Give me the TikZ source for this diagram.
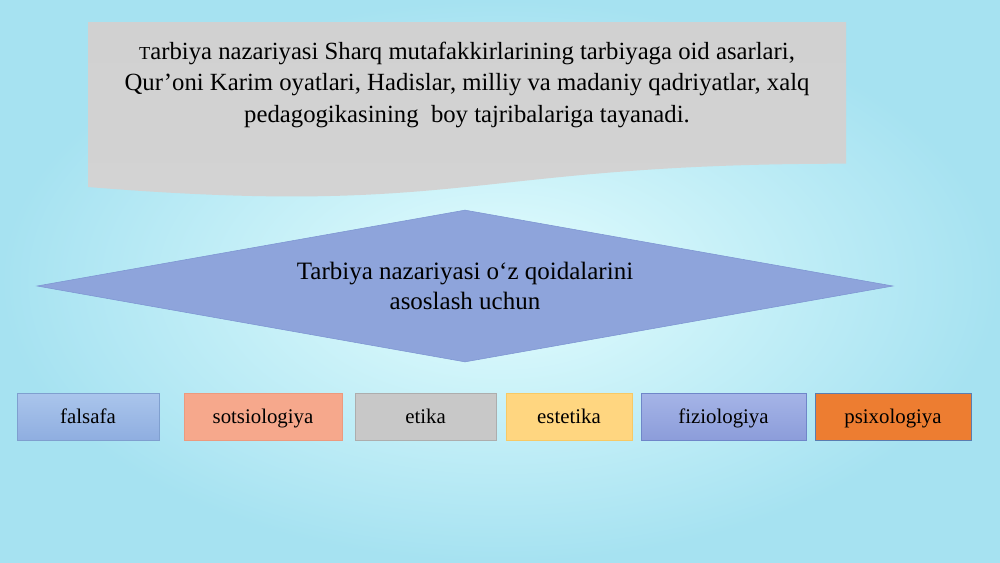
\documentclass[tikz,border=0pt]{standalone}
\usepackage{fontspec}
\setmainfont{Liberation Serif}
\usetikzlibrary{shapes.geometric}
\usetikzlibrary{positioning}

\definecolor{bgin}{HTML}{E4FDFE}
\definecolor{bgout}{HTML}{A6E2F1}
\definecolor{docgray}{HTML}{C9C9C9}
\definecolor{diafill}{HTML}{8EA4DB}
\definecolor{diaedge}{HTML}{7D95D2}
\definecolor{falstop}{HTML}{AAC5EC}
\definecolor{falsbot}{HTML}{8FAEE0}
\definecolor{falsedge}{HTML}{7F9FCF}
\definecolor{sotsfill}{HTML}{F6A88C}
\definecolor{sotsedge}{HTML}{EC9A7E}
\definecolor{etikfill}{HTML}{C8C8C8}
\definecolor{etikedge}{HTML}{ADADAD}
\definecolor{estfill}{HTML}{FFD680}
\definecolor{estedge}{HTML}{F7C965}
\definecolor{fiztop}{HTML}{A5B4E7}
\definecolor{fizbot}{HTML}{8C9DDA}
\definecolor{fizedge}{HTML}{6F86C9}
\definecolor{psixfill}{HTML}{ED7D31}
\definecolor{psixedge}{HTML}{5A7DB0}

\begin{document}
\begin{tikzpicture}[x=0.72pt,y=-0.72pt, doc_node/.style={align=center,font=\fontsize{17.8}{22.7}\selectfont}, dia_node/.style={diamond,aspect=5.6,minimum width=616.3pt,minimum height=109.4pt,inner sep=0pt,fill=diafill,draw=diaedge,align=center,font=\fontsize{18}{21.6}\selectfont}, box_node/.style={rectangle,minimum height=33.8pt,inner sep=0pt,text height=13pt,text depth=2.5pt,font=\fontsize{15}{18}\selectfont}]

	\useasboundingbox (0,0) rectangle (1000,562);
	\shade[inner color=bgin,outer color=bgout] (0,0) rectangle (1000,562);

	% document shape
	\shade[top color=docgray!85,bottom color=docgray!105!black] (88,22) -- (846,22) -- (846,163.7)
		.. controls (467,163.7) and (467,217.7) .. (88,187) -- cycle;
	\node[doc_node] (doc) at (467,84.5) {{\fontsize{13.2}{13.2}\selectfont T}arbiya nazariyasi Sharq mutafakkirlarining tarbiyaga oid asarlari,\\
		Qur’oni Karim oyatlari, Hadislar, milliy va madaniy qadriyatlar, xalq\\
		pedagogikasining~ boy tajribalariga tayanadi.};

	\node[dia_node] (dia) at (465,286) {Tarbiya nazariyasi o‘z qoidalarini\\asoslash uchun};

	\node[box_node,minimum width=102.2pt,top color=falstop,bottom color=falsbot,draw=falsedge] (falsafa) at (88,416.5) {falsafa};
	\node[box_node,minimum width=113.8pt,fill=sotsfill,draw=sotsedge] (sots) at (263,416.5) {sotsiologiya};
	\node[box_node,minimum width=101.5pt,fill=etikfill,draw=etikedge] (etika) at (425.5,416.5) {etika};
	\node[box_node,minimum width=90.7pt,fill=estfill,draw=estedge] (estetika) at (569,416.5) {estetika};
	\node[box_node,minimum width=118.8pt,top color=fiztop,bottom color=fizbot,draw=fizedge] (fizio) at (723.5,416.5) {fiziologiya};
	\node[box_node,minimum width=112.3pt,fill=psixfill,draw=psixedge] (psixo) at (893,416.5) {psixologiya};
\end{tikzpicture}
\end{document}
